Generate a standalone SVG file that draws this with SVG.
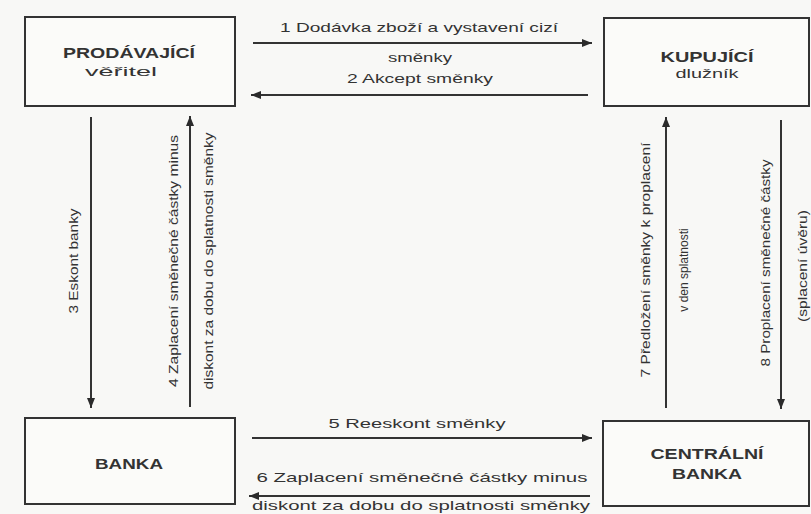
<svg xmlns="http://www.w3.org/2000/svg" width="811" height="514" viewBox="0 0 811 514">
<defs>
<marker id="ah" viewBox="0 0 10 8" refX="10" refY="4" markerWidth="10" markerHeight="8" markerUnits="userSpaceOnUse" orient="auto">
<path d="M0,0 L10,4 L0,8 Z" fill="#2b2b2b"/>
</marker>
<style>
.box{fill:#fbfbf9;stroke:#333;stroke-width:2}
.t{font-family:"Liberation Sans",Arial,sans-serif;fill:#333;font-size:13px}
.v{font-family:"Liberation Sans",Arial,sans-serif;fill:#333;font-size:12px}
.b{font-family:"Liberation Sans",Arial,sans-serif;fill:#333;font-size:14px;font-weight:bold}
.c{stroke:#333;stroke-width:2;fill:none;marker-end:url(#ah)}
</style>
</defs>
<rect width="811" height="514" fill="#f8f8f6"/>
<g id="prodavajici">
<rect class="box" x="25" y="17" width="210" height="89"/>
<text class="b" x="129" y="58" text-anchor="middle" textLength="132" lengthAdjust="spacingAndGlyphs">PRODÁVAJÍCÍ</text>
<text class="t" x="121" y="76" text-anchor="middle" textLength="72" lengthAdjust="spacingAndGlyphs">věřitel</text>
</g>
<g id="kupujici">
<rect class="box" x="604" y="18" width="205" height="88"/>
<text class="b" x="707" y="62" text-anchor="middle" textLength="93" lengthAdjust="spacingAndGlyphs">KUPUJÍCÍ</text>
<text class="t" x="707" y="78" text-anchor="middle" textLength="63" lengthAdjust="spacingAndGlyphs">dlužník</text>
</g>
<g id="banka">
<rect class="box" x="25" y="418" width="210" height="86"/>
<text class="b" x="129" y="469" text-anchor="middle" textLength="68" lengthAdjust="spacingAndGlyphs">BANKA</text>
</g>
<g id="centralni-banka">
<rect class="box" x="603" y="421" width="206" height="85"/>
<text class="b" x="707" y="459" text-anchor="middle" textLength="113" lengthAdjust="spacingAndGlyphs">CENTRÁLNÍ</text>
<text class="b" x="707" y="479" text-anchor="middle" textLength="70" lengthAdjust="spacingAndGlyphs">BANKA</text>
</g>
<g id="connectors">
<line class="c" x1="253" y1="43" x2="592" y2="43"/>
<line class="c" x1="588" y1="95" x2="251" y2="95"/>
<line class="c" x1="91" y1="117" x2="91" y2="408"/>
<line class="c" x1="190" y1="407" x2="190" y2="116"/>
<line class="c" x1="666" y1="408" x2="666" y2="117"/>
<line class="c" x1="781" y1="120" x2="781" y2="409"/>
<line class="c" x1="252" y1="438" x2="592" y2="438"/>
<line class="c" x1="590" y1="496" x2="249" y2="496"/>
<text class="t" x="419" y="32" text-anchor="middle" textLength="278" lengthAdjust="spacingAndGlyphs">1 Dodávka zboží a vystavení cizí</text>
<text class="t" x="420" y="62" text-anchor="middle" textLength="64" lengthAdjust="spacingAndGlyphs">směnky</text>
<text class="t" x="420" y="83" text-anchor="middle" textLength="146" lengthAdjust="spacingAndGlyphs">2 Akcept směnky</text>
<text class="t" x="417" y="428" text-anchor="middle" textLength="177" lengthAdjust="spacingAndGlyphs">5 Reeskont směnky</text>
<text class="t" x="422" y="482" text-anchor="middle" textLength="331" lengthAdjust="spacingAndGlyphs">6 Zaplacení směnečné částky minus</text>
<text class="t" x="421" y="510" text-anchor="middle" textLength="338" lengthAdjust="spacingAndGlyphs">diskont za dobu do splatnosti směnky</text>
<text class="v" transform="translate(78,261) rotate(-90)" text-anchor="middle" textLength="105" lengthAdjust="spacingAndGlyphs">3 Eskont banky</text>
<text class="v" transform="translate(178,261) rotate(-90)" text-anchor="middle" textLength="252" lengthAdjust="spacingAndGlyphs">4 Zaplacení směnečné částky minus</text>
<text class="v" transform="translate(213,261) rotate(-90)" text-anchor="middle" textLength="257" lengthAdjust="spacingAndGlyphs">diskont za dobu do splatnosti směnky</text>
<text class="v" transform="translate(650,260) rotate(-90)" text-anchor="middle" textLength="235" lengthAdjust="spacingAndGlyphs">7 Předložení směnky k proplacení</text>
<text class="v" transform="translate(688,270) rotate(-90)" text-anchor="middle">v den splatnosti</text>
<text class="v" transform="translate(770,263) rotate(-90)" text-anchor="middle" textLength="207" lengthAdjust="spacingAndGlyphs">8 Proplacení směnečné částky</text>
<text class="v" transform="translate(807,266) rotate(-90)" text-anchor="middle" textLength="112" lengthAdjust="spacingAndGlyphs">(splacení úvěru)</text>
</g>
</svg>
